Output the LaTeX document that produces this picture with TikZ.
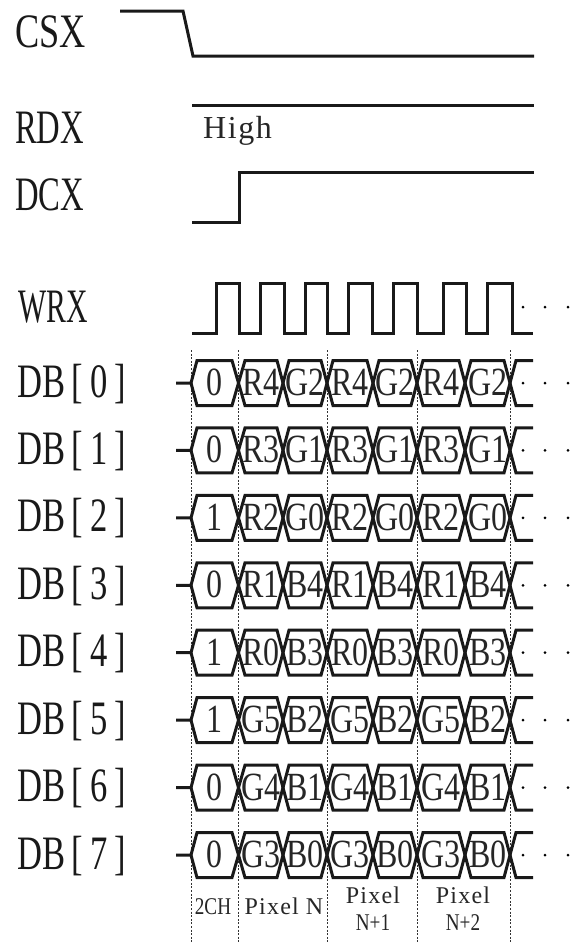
\documentclass[tikz,border=0pt]{standalone}
\usepackage{fontspec}
\setmainfont{Liberation Serif}
\newfontfamily\bigf[FakeStretch=0.72]{Liberation Serif}
\newfontfamily\cellf[FakeStretch=0.8]{Liberation Serif}
\newfontfamily\spacedf[LetterSpace=5]{Liberation Serif}
\newcommand{\dbl}[1]{DB\kern6pt[\kern7.5pt#1\kern7.5pt]}
\tikzset{
  wave/.style={line width=3pt,line join=miter,black!90},
  guide/.style={line width=1pt,black!80,dash pattern=on 2pt off 1.6pt},
  biglabel/.style={inner sep=0pt,anchor=base west,font=\bigf\fontsize{48}{48}\selectfont,text=black!90},
  cell/.style={inner sep=0pt,anchor=base,font=\cellf\fontsize{40}{40}\selectfont,text=black!85},
  smalltext/.style={inner sep=0pt,anchor=base,font=\spacedf\fontsize{24}{24}\selectfont,text=black!85},
  narrowtext/.style={inner sep=0pt,anchor=base,font=\cellf\fontsize{24}{24}\selectfont,text=black!85},
}
\begin{document}
\begin{tikzpicture}[x=1pt,y=-1pt]
\useasboundingbox (0,0) rectangle (570,943);
% labels
\node[biglabel,xscale=1.05] (csx) at (15,47) {CSX};
\node[biglabel,xscale=.945] (rdx) at (15,143) {RDX};
\node[biglabel,xscale=.945] (dcx) at (15,210) {DCX};
\node[biglabel,xscale=.86] (wrx) at (18,322) {WRX};
% guides
\foreach \x/\n in {191/a,238/b,327/c,417/d,510/e}
  \draw[guide] (\x,350) coordinate (g\n) -- (\x,943);
% control waves
\draw[wave] (120,11) -- (183,11) -- (193,56) -- (534,56);
\draw[wave] (192,105) -- (534,105);
\draw[wave] (192,222) -- (239,222) -- (239,172) -- (534,172);
\draw[wave] (192,333) -- (216,333) -- (216,283) -- (239,283) -- (239,333)
  -- (260,333) -- (260,283) -- (284,283) -- (284,333)
  -- (305,333) -- (305,283) -- (327,283) -- (327,333)
  -- (348,333) -- (348,283) -- (372,283) -- (372,333)
  -- (393,333) -- (393,283) -- (417,283) -- (417,333)
  -- (443,333) -- (443,283) -- (466,283) -- (466,333)
  -- (487,333) -- (487,283) -- (512,283) -- (512,333) -- (533,333);
\node[inner sep=0pt,anchor=base west,font=\spacedf\fontsize{32}{32}\selectfont,text=black!85] (high) at (203,138) {High};
% WRX ellipsis
\foreach \x in {523,545,568} \fill (\x,307) circle (1.5);
% bus rows
\foreach \r/\b/\p/\q in {0/0/R4/G2,1/0/R3/G1,2/1/R2/G0,3/0/R1/B4,4/1/R0/B3,5/1/G5/B2,6/0/G4/B1,7/0/G3/B0}{
  \pgfmathsetmacro{\yc}{383+67.43*\r}
  \pgfmathsetmacro{\yt}{\yc-22.5}
  \pgfmathsetmacro{\yb}{\yc+22.5}
  \pgfmathsetmacro{\yl}{\yc+14}
  \pgfmathsetmacro{\yn}{\yc+12.5}
  \node[biglabel] (db\r) at (17,\yl) {\dbl{\r}};
  \draw[wave] (176,\yc) -- (191,\yc) -- (197,\yt) -- (232,\yt) -- (245,\yb)
    -- (277,\yb) -- (289,\yt) -- (321,\yt) -- (333,\yb) -- (367,\yb) -- (379,\yt)
    -- (411,\yt) -- (423,\yb) -- (459,\yb) -- (471,\yt) -- (504,\yt) -- (516,\yb) -- (533,\yb);
  \draw[wave] (191,\yc) -- (197,\yb) -- (232,\yb) -- (245,\yt)
    -- (277,\yt) -- (289,\yb) -- (321,\yb) -- (333,\yt) -- (367,\yt) -- (379,\yb)
    -- (411,\yb) -- (423,\yt) -- (459,\yt) -- (471,\yb) -- (504,\yb) -- (516,\yt) -- (533,\yt);
  \node[cell] (z\r) at (214,\yn) {\b};
  \node[cell] (c\r a) at (261,\yn) {\p};
  \node[cell] (c\r b) at (305,\yn) {\q};
  \node[cell] (c\r c) at (350,\yn) {\p};
  \node[cell] (c\r d) at (395,\yn) {\q};
  \node[cell] (c\r e) at (441,\yn) {\p};
  \node[cell] (c\r f) at (488,\yn) {\q};
  \foreach \x in {523,545,568} \fill (\x,\yc) circle (1.5);
}
% bottom text
\node[narrowtext] (ch) at (213,914) {2CH};
\node[smalltext] (pn) at (284,914) {Pixel N};
\node[smalltext] (p1) at (373,903) {Pixel};
\node[narrowtext] (n1) at (373,930) {N+1};
\node[smalltext] (p2) at (463,903) {Pixel};
\node[narrowtext] (n2) at (463,930) {N+2};
\end{tikzpicture}
\end{document}
